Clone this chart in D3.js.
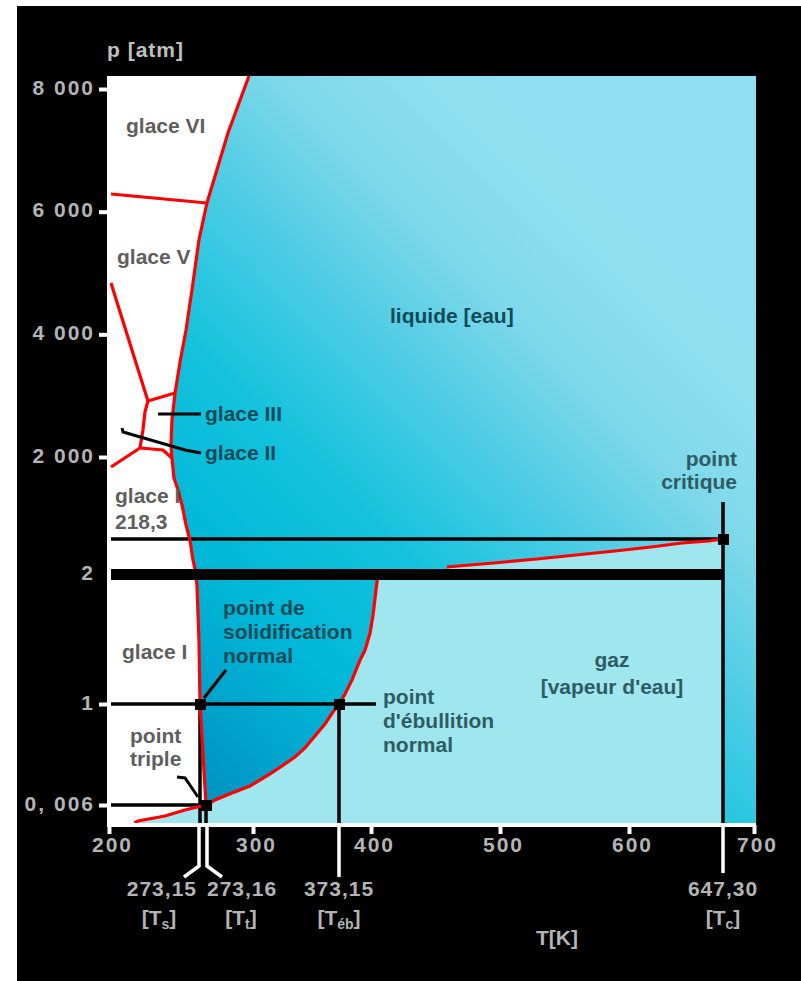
<!DOCTYPE html>
<html><head><meta charset="utf-8">
<script src="https://cdn.jsdelivr.net/npm/d3@7"></script>
<style>
html,body{margin:0;padding:0;background:#fff;}
svg{display:block;}
text{font-family:"Liberation Sans",Arial,sans-serif;font-size:21px;font-weight:bold;}
</style></head><body>
<script>
// ---- Axis ticks ----
const T_TICKS = [200, 300, 400, 500, 600, 700];
const P_TICKS = [8000, 6000, 4000, 2000, 2, 1, 0.006];
const P_TICK_LABELS = ["8 000", "6 000", "4 000", "2 000", "2", "1", "0, 006"];

// ---- Remarkable points [T (K), p (atm)] ----
const TRIPLE = [273.16, 0.006];
const MELT_1ATM = [273.15, 1];
const BOIL_1ATM = [373.15, 1];
const CRITICAL = [647.3, 218.3];
const BREAK_P = 2;            // pressure where the axis is broken
const POINTS = [MELT_1ATM, BOIL_1ATM, TRIPLE, CRITICAL];

// ---- Phase boundaries [T, p] ----
// solid / liquid, from high pressure down to the triple point
const meltingCurve = [
  [297.7, 8212], [285.7, 7283], [273.7, 6141], [272.3, 5538], [266.7, 4723],
  [261.9, 4071], [257.1, 3549], [253.1, 3043], [250.6, 2603], [249.8, 2196],
  [250.6, 1978], [252.2, 1544], [255.5, 1283], [258.7, 957], [261.9, 522],
  [265.1, 212], [267.5, 88.5], [269.1, 32.9], [270.7, 1.915], [272.3, 1.49],
  [273.15, 1], [273.16, 0.006]
];
// solid / gas
const sublimationCurve = [
  [220.5, 0.0001], [223.3, 0.00067], [245.0, 0.00233], [261.1, 0.00433], [273.16, 0.006]
];
// liquid / gas below the axis break
const vaporLow = [
  [273.16, 0.006], [278.3, 0.055], [288.0, 0.124], [298.3, 0.193], [312.8, 0.301],
  [324.7, 0.39], [335.7, 0.478], [344.2, 0.567], [352.7, 0.685], [361.2, 0.803],
  [368.0, 0.921], [373.15, 1], [378.2, 1.077], [384.1, 1.185], [390.8, 1.338],
  [395.0, 1.415], [399.2, 1.546], [401.6, 1.685], [403.9, 1.877], [405.4, 2]
];
// liquid / gas above the axis break, up to the critical point
const vaporHigh = [
  [458.9, 45.3], [495.3, 70], [528.7, 94.7], [558.9, 119.4], [589.1, 144.1],
  [611.1, 168.9], [626.7, 193.6], [640.0, 206], [647.3, 218.3]
];
// boundaries between the ice forms
const iceBoundaries = [
  [[201.6, 6288], [273.7, 6141]],                               // VI / V
  [[201.6, 4837], [231.3, 2913]],                               // II / V
  [[231.3, 2913], [253.1, 3043]],                               // III / V
  [[231.3, 2913], [228.9, 2734], [227.3, 2440], [224.9, 2147]], // II / III
  [[224.9, 2147], [243.4, 2114], [250.6, 1978]],                // I / III
  [[224.9, 2147], [201.6, 1783]]                                // I / II
];

// ---- Temperatures marked under the axis ----
const T_MARK_TEXT = ["273,15", "273,16", "373,15", "647,30"];
const T_MARK_SUB = ["s", "t", "éb", "c"];

// ---- Layout ----
const W = 801, H = 981;
const plot = {left: 107, top: 76, right: 756, bottom: 823};

const x = d3.scaleLinear()
  .domain([200, 273.15, 273.16, 300, 373.15, 400, 500, 600, 647.3, 700])
  .range([109, 200, 206, 253, 339, 371, 500, 629, 723, 754]);
const y = d3.scaleLinear()
  .domain([0, 0.006, 1, 2, 218.3, 2000, 8000])
  .range([823, 805, 704, 574, 539, 457, 89]);

const svg = d3.select("body").append("svg").attr("width", W).attr("height", H);
const defs = svg.append("defs");

defs.append("clipPath").attr("id", "plotClip").append("rect")
  .attr("x", plot.left).attr("y", plot.top)
  .attr("width", plot.right - plot.left).attr("height", plot.bottom - plot.top);

const grad = defs.append("linearGradient").attr("id", "fluid")
  .attr("gradientUnits", "userSpaceOnUse")
  .attr("x1", 100).attr("y1", 800).attr("x2", 750).attr("y2", 150);
[[0.10, "#0096c4"], [0.27, "#00b8d8"], [0.42, "#14c2dd"], [0.58, "#52cde5"],
 [0.69, "#7ed8ea"], [0.81, "#8ee0ef"], [1, "#8edff0"]]
  .forEach(([o, c]) => grad.append("stop").attr("offset", o).attr("stop-color", c));

// black frame
svg.append("rect").attr("x", 17).attr("y", 6).attr("width", W - 17).attr("height", H - 6).attr("fill", "#000");

const g = svg.append("g").attr("clip-path", "url(#plotClip)");
const P = d => [x(d[0]), y(d[1])];
const line = d3.line().x(d => x(d[0])).y(d => y(d[1]));

// fluid background (liquid + supercritical)
g.append("rect").attr("x", plot.left).attr("y", plot.top)
  .attr("width", plot.right - plot.left).attr("height", plot.bottom - plot.top)
  .attr("fill", "url(#fluid)");

// solid region
const solidPoly = [[plot.left, plot.top], [x(meltingCurve[0][0]), plot.top]]
  .concat(meltingCurve.map(P))
  .concat(sublimationCurve.slice().reverse().map(P))
  .concat([[x(sublimationCurve[0][0]), plot.bottom], [plot.left, plot.bottom]]);
g.append("path").attr("d", d3.line()(solidPoly) + "Z").attr("fill", "#fff");

// gas region below the break
const gasLow = sublimationCurve.map(P)
  .concat(vaporLow.map(P))
  .concat([P([CRITICAL[0], BREAK_P]), [x(CRITICAL[0]), plot.bottom], [x(sublimationCurve[0][0]), plot.bottom]]);
g.append("path").attr("d", d3.line()(gasLow) + "Z").attr("fill", "#a0e6ef");
// gas region above the break
const gasHigh = [P([vaporHigh[0][0], BREAK_P])].concat(vaporHigh.map(P)).concat([P([CRITICAL[0], BREAK_P])]);
g.append("path").attr("d", d3.line()(gasHigh) + "Z").attr("fill", "#a0e6ef");

// reference lines
const lineStart = plot.left + 4;
const blk = g.append("g").attr("stroke", "#000").attr("stroke-width", 3.5).attr("fill", "none");
blk.append("line").attr("x1", lineStart).attr("x2", x(TRIPLE[0])).attr("y1", y(TRIPLE[1])).attr("y2", y(TRIPLE[1]));
blk.append("line").attr("x1", lineStart).attr("x2", x(BOIL_1ATM[0]) + 37).attr("y1", y(1)).attr("y2", y(1));
blk.append("line").attr("x1", lineStart).attr("x2", x(CRITICAL[0])).attr("y1", y(CRITICAL[1])).attr("y2", y(CRITICAL[1]));
blk.append("line").attr("x1", x(MELT_1ATM[0])).attr("x2", x(MELT_1ATM[0])).attr("y1", y(MELT_1ATM[1])).attr("y2", plot.bottom);
blk.append("line").attr("x1", x(TRIPLE[0])).attr("x2", x(TRIPLE[0])).attr("y1", y(TRIPLE[1])).attr("y2", plot.bottom);
blk.append("line").attr("x1", x(BOIL_1ATM[0])).attr("x2", x(BOIL_1ATM[0])).attr("y1", y(BOIL_1ATM[1])).attr("y2", plot.bottom);
blk.append("line").attr("x1", x(CRITICAL[0])).attr("x2", x(CRITICAL[0])).attr("y1", y(CRITICAL[1]) - 37).attr("y2", plot.bottom);

// phase boundary curves
const red = g.append("g").attr("stroke", "#ff0000").attr("stroke-width", 3.2).attr("fill", "none");
[meltingCurve, sublimationCurve, vaporLow, vaporHigh].concat(iceBoundaries)
  .forEach(c => red.append("path").attr("d", line(c)));

// axis break bar
g.append("line").attr("x1", lineStart).attr("x2", x(CRITICAL[0]))
  .attr("y1", y(BREAK_P) + 0.5).attr("y2", y(BREAK_P) + 0.5)
  .attr("stroke", "#000").attr("stroke-width", 11);

// label leaders
const leaders = [
  [[158, 414], [201, 414]],
  [[122, 428], [123, 432], [185, 450], [201, 453]],
  [[226, 670], [204, 698]],
  [[177, 777], [185, 778], [198, 797]]
];
leaders.forEach(l => g.append("path").attr("d", d3.line()(l))
  .attr("stroke", "#000").attr("stroke-width", 3).attr("fill", "none"));

// remarkable points
g.selectAll("rect.pt").data(POINTS).enter().append("rect").attr("class", "pt")
  .attr("x", d => x(d[0]) - 5).attr("y", d => y(d[1]) - 5)
  .attr("width", 11).attr("height", 11).attr("fill", "#000");

// ---- axes ----
const axisCol = "#fff", axisTxt = "#b4b4b4";
const yAxis = svg.append("g").attr("transform", `translate(${plot.left},0)`)
  .call(d3.axisLeft(y).tickValues(P_TICKS).tickFormat((d, i) => P_TICK_LABELS[i]).tickSize(8).tickPadding(4));
yAxis.select(".domain").remove();
yAxis.selectAll(".tick line").attr("stroke", axisCol).attr("stroke-width", 4)
  .filter(d => d === BREAK_P).remove();
yAxis.selectAll(".tick text").attr("fill", axisTxt).attr("font-size", 21)
  .attr("font-family", "Liberation Sans, Arial, sans-serif").attr("font-weight", "bold")
  .attr("letter-spacing", 2).attr("dy", "0.25em");

const xAxis = svg.append("g").attr("transform", `translate(0,${plot.bottom + 2})`)
  .call(d3.axisBottom(x).tickValues(T_TICKS).tickSize(9).tickSizeOuter(0).tickPadding(3));
xAxis.select(".domain").remove();
xAxis.selectAll(".tick line").attr("stroke", axisCol).attr("stroke-width", 4);
xAxis.selectAll(".tick text").attr("fill", axisTxt).attr("font-size", 21)
  .attr("font-family", "Liberation Sans, Arial, sans-serif").attr("font-weight", "bold")
  .attr("letter-spacing", 2).attr("dx", 3);
svg.append("line").attr("x1", plot.left).attr("x2", plot.right)
  .attr("y1", plot.bottom + 2).attr("y2", plot.bottom + 2)
  .attr("stroke", axisCol).attr("stroke-width", 4);

// reference lines continued under the axis
const ax0 = plot.bottom + 3;
const wht = svg.append("g").attr("stroke", axisCol).attr("stroke-width", 3.5).attr("fill", "none");
wht.append("path").attr("d", d3.line()([[x(MELT_1ATM[0]) - 1, ax0], [x(MELT_1ATM[0]) - 1, 866], [184, 877]]));
wht.append("path").attr("d", d3.line()([[x(TRIPLE[0]) + 1, ax0], [x(TRIPLE[0]) + 1, 866], [222, 877]]));
wht.append("line").attr("x1", x(BOIL_1ATM[0])).attr("x2", x(BOIL_1ATM[0])).attr("y1", ax0).attr("y2", 877);
wht.append("line").attr("x1", x(CRITICAL[0])).attr("x2", x(CRITICAL[0])).attr("y1", ax0).attr("y2", 873);

// temperature marks under the axis
const markPos = [
  {x: 197, anchor: "end"}, {x: 207, anchor: "start"},
  {x: x(BOIL_1ATM[0]), anchor: "middle"}, {x: x(CRITICAL[0]), anchor: "middle"}
];
const markSubPos = [159, 241, x(BOIL_1ATM[0]), x(CRITICAL[0])];
T_MARK_TEXT.forEach((t, i) => {
  svg.append("text").attr("x", markPos[i].x).attr("y", 896).attr("text-anchor", markPos[i].anchor)
    .attr("fill", axisTxt).attr("letter-spacing", 1).text(t);
  const s = svg.append("text").attr("x", markSubPos[i]).attr("y", 925).attr("text-anchor", "middle")
    .attr("fill", axisTxt);
  s.append("tspan").text("[T");
  s.append("tspan").attr("font-size", 14).attr("dy", 4).text(T_MARK_SUB[i]);
  s.append("tspan").attr("dy", -4).text("]");
});
svg.append("text").attr("x", 557).attr("y", 945).attr("text-anchor", "middle")
  .attr("fill", axisTxt).text("T[K]");
svg.append("text").attr("x", 107).attr("y", 57).attr("fill", "#c0c0c0").attr("letter-spacing", 1).text("p [atm]");

// ---- region and point labels ----
const SOLID_TXT = "#5e5e5e", FLUID_TXT = "#0f4a58", GAS_TXT = "#2d5d63";
const labels = [
  {lines: ["glace VI"], x: 126, y: 133, c: SOLID_TXT},
  {lines: ["glace V"], x: 117, y: 264, c: SOLID_TXT},
  {lines: ["liquide [eau]"], x: 390, y: 323, c: FLUID_TXT},
  {lines: ["glace III"], x: 205, y: 421, c: FLUID_TXT},
  {lines: ["glace II"], x: 205, y: 460, c: FLUID_TXT},
  {lines: ["glace I", "218,3"], x: 115, y: 503, c: SOLID_TXT, lh: 26},
  {lines: ["point de", "solidification", "normal"], x: 223, y: 615, c: FLUID_TXT, lh: 24},
  {lines: ["glace I"], x: 122, y: 659, c: SOLID_TXT},
  {lines: ["point", "triple"], x: 130, y: 743, c: SOLID_TXT, lh: 23},
  {lines: ["point", "d'ébullition", "normal"], x: 383, y: 704, c: GAS_TXT, lh: 24},
  {lines: ["gaz", "[vapeur d'eau]"], x: 612, y: 667, c: GAS_TXT, lh: 27, anchor: "middle"},
  {lines: ["point", "critique"], x: 737, y: 466, c: GAS_TXT, lh: 23, anchor: "end"}
];
labels.forEach(l => {
  const t = svg.append("text").attr("x", l.x).attr("y", l.y).attr("fill", l.c)
    .attr("text-anchor", l.anchor || "start");
  l.lines.forEach((s, i) => t.append("tspan").attr("x", l.x).attr("dy", i ? l.lh : 0).text(s));
});
</script>
</body></html>
